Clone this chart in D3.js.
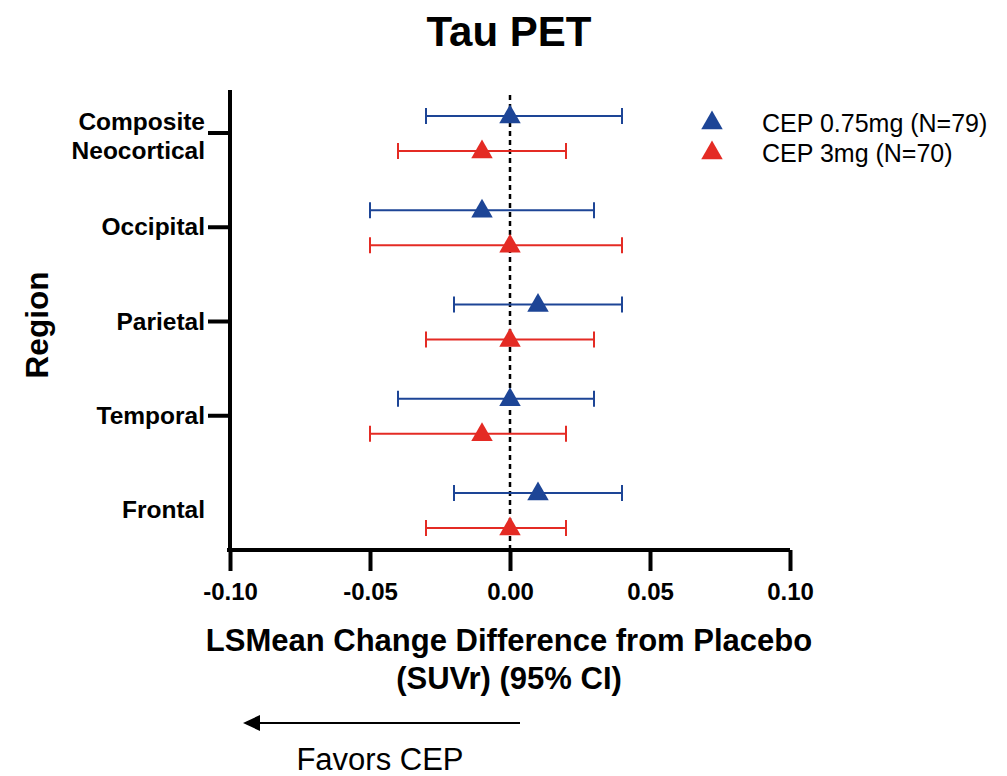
<!DOCTYPE html>
<html>
<head>
<meta charset="utf-8">
<script src="https://cdn.jsdelivr.net/npm/d3@7"></script>
<style>
  body { margin: 0; background: #fff; }
  text { font-family: "Liberation Sans", Arial, sans-serif; }
</style>
</head>
<body>
<svg id="chart" width="1007" height="776"></svg>
<script>
// regions, top to bottom
const regions = ["Composite\nNeocortical", "Occipital", "Parietal", "Temporal", "Frontal"]
const series = ["CEP 0.75mg (N=79)", "CEP 3mg (N=70)"]
const colors = ["#1d4596", "#e42b24"]

// LSMean difference and 95% CI per region, for each dose
const est_075 = [0.00, -0.01, 0.01, 0.00, 0.01]
const lo_075 = [-0.03, -0.05, -0.02, -0.04, -0.02]
const hi_075 = [0.04, 0.03, 0.04, 0.03, 0.04]

const est_3 = [-0.01, 0.00, 0.00, -0.01, 0.00]
const lo_3 = [-0.04, -0.05, -0.03, -0.05, -0.03]
const hi_3 = [0.02, 0.04, 0.03, 0.02, 0.02]

const xTicks = [-0.10, -0.05, 0.00, 0.05, 0.10]

const rows = []
regions.forEach((r, i) => {
  rows.push({region: r, s: 0, est: est_075[i], lo: lo_075[i], hi: hi_075[i]})
  rows.push({region: r, s: 1, est: est_3[i], lo: lo_3[i], hi: hi_3[i]})
})

const svg = d3.select("#chart")

// plot area
var mLeft = 230, mRight = 790, mTop = 90, mBottom = 550

var x = d3.scaleLinear().domain([-0.10, 0.10]).range([mLeft, mRight])
var y = d3.scalePoint().domain(regions).range([133, 510])
var offset = [-17, 18]

// title
svg.append("text")
  .attr("x", 509).attr("y", 46)
  .attr("text-anchor", "middle")
  .attr("font-size", 42).attr("font-weight", "bold")
  .text("Tau PET")

// zero reference line
svg.append("line")
  .attr("x1", x(0)).attr("x2", x(0))
  .attr("y1", 95).attr("y2", mBottom - 2)
  .attr("stroke", "black").attr("stroke-width", 2.5)
  .attr("stroke-dasharray", "5,4")

// error bars
var bars = svg.append("g").selectAll("g")
  .data(rows)
  .enter().append("g")
  .attr("stroke", d => colors[d.s])
  .attr("stroke-width", 2)

bars.append("line")
  .attr("x1", d => x(d.lo)).attr("x2", d => x(d.hi))
  .attr("y1", d => y(d.region) + offset[d.s])
  .attr("y2", d => y(d.region) + offset[d.s])

bars.append("line")
  .attr("x1", d => x(d.lo)).attr("x2", d => x(d.lo))
  .attr("y1", d => y(d.region) + offset[d.s] - 8)
  .attr("y2", d => y(d.region) + offset[d.s] + 8)

bars.append("line")
  .attr("x1", d => x(d.hi)).attr("x2", d => x(d.hi))
  .attr("y1", d => y(d.region) + offset[d.s] - 8)
  .attr("y2", d => y(d.region) + offset[d.s] + 8)

var tri = d3.symbol().type(d3.symbolTriangle).size(200)

svg.append("g").selectAll("path")
  .data(rows)
  .enter().append("path")
  .attr("d", tri)
  .attr("fill", d => colors[d.s])
  .attr("transform", d => "translate(" + x(d.est) + "," + (y(d.region) + offset[d.s] + 1) + ")")

// x axis
var xAxis = svg.append("g")
  .attr("transform", "translate(0," + mBottom + ")")
  .call(d3.axisBottom(x).tickValues(xTicks)
    .tickFormat(d => d3.format(".2f")(d).replace("\u2212", "-"))
    .tickSize(21).tickPadding(12))

xAxis.select(".domain").attr("stroke-width", 4).attr("d", "M" + (mLeft - 3) + ",0H" + mRight)
xAxis.selectAll(".tick line").attr("stroke-width", 4)
xAxis.selectAll(".tick text")
  .attr("font-size", 24).attr("font-weight", "bold").attr("fill", "black")

// y axis line
svg.append("line")
  .attr("x1", mLeft).attr("x2", mLeft)
  .attr("y1", mTop).attr("y2", mBottom)
  .attr("stroke", "black").attr("stroke-width", 4)

// y ticks (none drawn for the last region)
svg.append("g").selectAll("line")
  .data(regions.slice(0, 4))
  .enter().append("line")
  .attr("x1", mLeft - 22).attr("x2", mLeft)
  .attr("y1", d => y(d)).attr("y2", d => y(d))
  .attr("stroke", "black").attr("stroke-width", 4)

// y labels
var ylab = svg.append("g").selectAll("text")
  .data(regions)
  .enter().append("text")
  .attr("text-anchor", "end")
  .attr("font-size", 24.5).attr("font-weight", "bold")
  .attr("x", 205)
  .attr("y", d => d.includes("\n") ? y(d) - 3 : y(d) + 8)

ylab.selectAll("tspan")
  .data(d => d.split("\n"))
  .enter().append("tspan")
  .attr("x", 205)
  .attr("dy", (d, i) => i === 0 ? 0 : 29)
  .text(d => d)

// y axis title
svg.append("text")
  .attr("transform", "translate(48,325) rotate(-90)")
  .attr("text-anchor", "middle")
  .attr("font-size", 31.5).attr("font-weight", "bold")
  .text("Region")

// x axis title
svg.append("text")
  .attr("x", 509).attr("y", 651)
  .attr("text-anchor", "middle")
  .attr("font-size", 31).attr("font-weight", "bold")
  .text("LSMean Change Difference from Placebo")

svg.append("text")
  .attr("x", 509).attr("y", 689)
  .attr("text-anchor", "middle")
  .attr("font-size", 31).attr("font-weight", "bold")
  .text("(SUVr) (95% CI)")

// favours arrow
svg.append("line")
  .attr("x1", 520).attr("x2", 258)
  .attr("y1", 723).attr("y2", 723)
  .attr("stroke", "black").attr("stroke-width", 2)

svg.append("path")
  .attr("d", "M243,723L260,715L260,731Z")
  .attr("fill", "black")

svg.append("text")
  .attr("x", 380).attr("y", 770)
  .attr("text-anchor", "middle")
  .attr("font-size", 31)
  .text("Favors CEP")

// legend
var legend = svg.append("g").selectAll("g")
  .data(series)
  .enter().append("g")
  .attr("transform", (d, i) => "translate(712," + (123 + i * 30) + ")")

legend.append("path")
  .attr("d", tri)
  .attr("fill", (d, i) => colors[i])

legend.append("text")
  .attr("x", 50).attr("y", 9)
  .attr("font-size", 25)
  .text(d => d)
</script>
</body>
</html>
